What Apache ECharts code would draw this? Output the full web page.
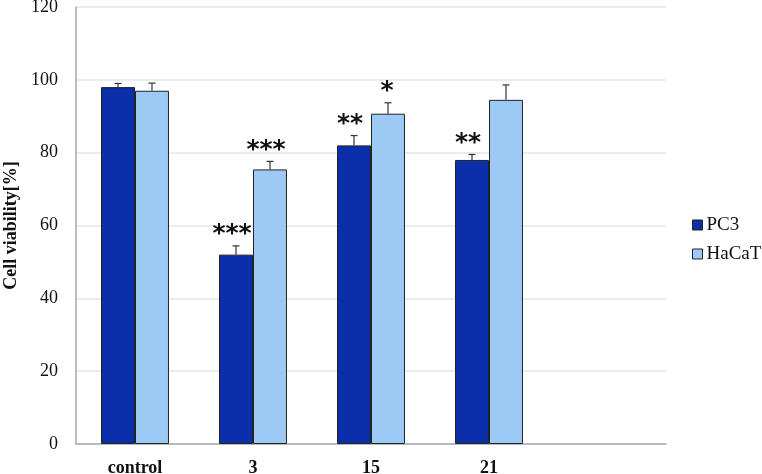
<!DOCTYPE html>
<html>
<head>
<meta charset="utf-8">
<script src="https://cdn.jsdelivr.net/npm/echarts@6/dist/echarts.min.js"></script>
<style>html,body{margin:0;padding:0;background:#fff}#c{width:762px;height:474px}</style>
</head>
<body>
<div id="c"></div>
<script>
var categories = ['control', '3', '15', '21', ''];
var pc3 = [98.0, 52.0, 82.0, 78.0];
var pc3Err = [1.0, 2.4, 2.7, 1.5];
var pc3Stars = ['', '***', '**', '**'];
var hacat = [97.0, 75.4, 90.7, 94.5];
var hacatErr = [2.1, 2.2, 3.0, 4.1];
var hacatStars = ['', '***', '*', ''];
var yTicks = [0, 20, 40, 60, 80, 100, 120];

var SERIF = '"Liberation Serif", "Times New Roman", serif';
var BAR_FRAC = 0.288;

function errSeries(name, vals, errs, stars, side) {
  var data = vals.map(function (v, i) { return [i, v, v + errs[i]]; });
  return {
    type: 'custom',
    name: name + ' err',
    data: data,
    z: 5,
    silent: true,
    renderItem: function (params, api) {
      var i = api.value(0);
      var base = api.coord([i, api.value(1)]);
      var top = api.coord([i, api.value(2)]);
      var band = api.size([1, 0])[0];
      var x = base[0] + side * band * BAR_FRAC / 2;
      var cap = 3.5;
      var children = [
        { type: 'line', shape: { x1: x, y1: base[1], x2: x, y2: top[1] }, style: { stroke: '#333', lineWidth: 1.2 } },
        { type: 'line', shape: { x1: x - cap, y1: top[1], x2: x + cap, y2: top[1] }, style: { stroke: '#333', lineWidth: 1.2 } }
      ];
      var s = stars[params.dataIndex];
      if (s) {
        children.push({
          type: 'text',
          style: {
            text: s, x: x - (s.length > 1 ? 4 : 1), y: top[1] - 11,
            fontSize: 25, fontWeight: 'bold', fontFamily: '"DejaVu Sans", sans-serif', fill: '#111',
            align: 'center', verticalAlign: 'middle'
          }
        });
      }
      return { type: 'group', children: children };
    }
  };
}

var chart = echarts.init(document.getElementById('c'));
chart.setOption({
  animation: false,
  backgroundColor: '#fff',
  grid: { left: 76, right: 96, top: 7, bottom: 30, containLabel: false, outerBoundsMode: 'none' },
  legend: {
    orient: 'vertical',
    left: 687,
    top: 210,
    itemWidth: 10,
    itemHeight: 10,
    itemGap: 9,
    icon: 'rect',
    data: ['PC3', 'HaCaT'],
    itemStyle: { borderColor: '#222', borderWidth: 1 },
    textStyle: { fontFamily: SERIF, fontSize: 19, color: '#111', padding: [0, 0, 0, -1], lineHeight: 20 }
  },
  xAxis: {
    type: 'category',
    data: categories,
    axisTick: { show: false },
    axisLine: { lineStyle: { color: '#a3adab', width: 1.5 } },
    axisLabel: { fontFamily: SERIF, fontSize: 18, fontWeight: 'bold', color: '#111', margin: 15 }
  },
  yAxis: {
    type: 'value',
    min: 0,
    max: 120,
    interval: 20,
    name: 'Cell viability[%]',
    nameLocation: 'middle',
    nameGap: 55,
    nameTextStyle: { fontFamily: SERIF, fontSize: 18, fontWeight: 'bold', color: '#111' },
    axisLine: { show: true, lineStyle: { color: '#a3adab', width: 1.5 } },
    axisTick: { show: false },
    axisLabel: { fontFamily: SERIF, fontSize: 18, color: '#111', margin: 18,
      formatter: function (v) { return yTicks.indexOf(v) >= 0 ? String(v) : ''; } },
    splitLine: { lineStyle: { color: '#e2e7e7', width: 1.5 } }
  },
  series: [
    { type: 'bar', name: 'PC3', data: pc3, barWidth: (BAR_FRAC * 100) + '%', barGap: '0%',
      itemStyle: { color: '#0a2fa8', borderColor: '#222', borderWidth: 1 } },
    { type: 'bar', name: 'HaCaT', data: hacat, barWidth: (BAR_FRAC * 100) + '%', barGap: '0%',
      itemStyle: { color: '#9dc9f5', borderColor: '#222', borderWidth: 1 } },
    errSeries('PC3', pc3, pc3Err, pc3Stars, -1),
    errSeries('HaCaT', hacat, hacatErr, hacatStars, 1)
  ]
});
</script>
</body>
</html>
